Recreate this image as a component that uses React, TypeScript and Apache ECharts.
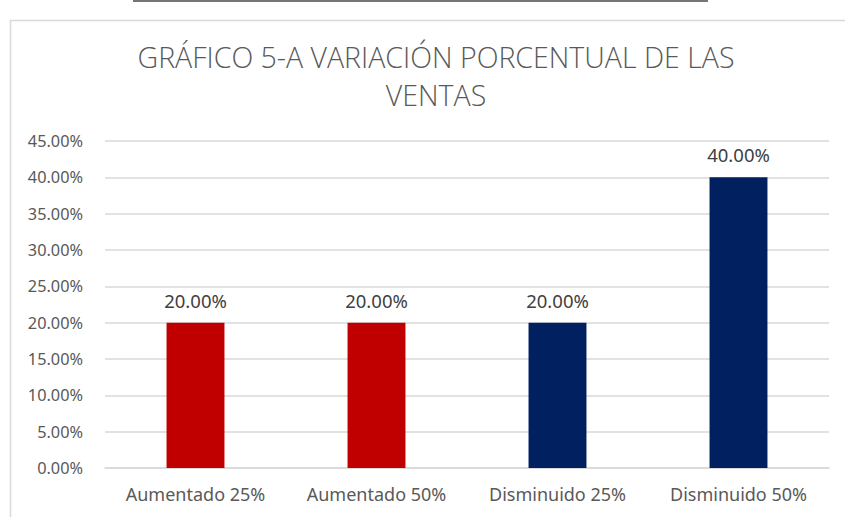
import React, { useEffect, useRef } from "react";
import * as echarts from "echarts";

const categories = ["Aumentado 25%", "Aumentado 50%", "Disminuido 25%", "Disminuido 50%"];
const values = [0.2, 0.2, 0.2, 0.4];
const barColors = ["#C00000", "#C00000", "#002060", "#002060"];
const titleText = "GRÁFICO 5-A VARIACIÓN PORCENTUAL DE LAS\nVENTAS";

const pct = (v: number) => (v * 100).toFixed(2) + "%";

export default function App() {
  const ref = useRef<HTMLDivElement>(null);
  useEffect(() => {
    if (!ref.current) return;
    const chart = echarts.init(ref.current, undefined, { renderer: "svg" });
    chart.setOption({
      animation: false,
      backgroundColor: "#ffffff",
      title: {
        text: titleText,
        left: 431,
        top: 33,
        textAlign: "center",
        textStyle: {
          fontFamily: "'Open Sans', sans-serif",
          fontSize: 28.5,
          fontWeight: 300,
          color: "#595959",
          lineHeight: 38,
        },
      },
      graphic: [
        {
          type: "rect",
          shape: { x: 10.5, y: 20.5, width: 860, height: 520 },
          style: { fill: "none", stroke: "#d9d9d9", lineWidth: 1.5 },
          silent: true,
          z: -1,
        },
        {
          type: "line",
          shape: { x1: 133, y1: 1, x2: 708, y2: 1 },
          style: { stroke: "#767676", lineWidth: 2 },
          silent: true,
        },
      ],
      grid: { left: 105, right: 16, top: 141, bottom: 49, containLabel: false },
      xAxis: {
        type: "category",
        data: categories,
        axisLine: { show: true, lineStyle: { color: "#d9d9d9", width: 1.5 } },
        axisTick: { show: false },
        axisLabel: {
          interval: 0,
          color: "#595959",
          fontSize: 18,
          fontFamily: "'Noto Sans', sans-serif",
          margin: 17,
        },
      },
      yAxis: {
        type: "value",
        min: 0,
        max: 0.45,
        interval: 0.05,
        axisLine: { show: false },
        axisTick: { show: false },
        splitLine: { lineStyle: { color: "#d9d9d9", width: 1.5 } },
        axisLabel: {
          color: "#595959",
          fontSize: 16.3,
          fontFamily: "'Noto Sans', sans-serif",
          margin: 22,
          formatter: (v: number) => pct(v),
        },
      },
      series: [
        {
          type: "bar",
          barWidth: "32%",
          data: values.map((v, i) => ({ value: v, itemStyle: { color: barColors[i] } })),
          label: {
            show: true,
            position: "top",
            distance: 13,
            color: "#404040",
            fontSize: 18.5,
            fontFamily: "'Noto Sans', sans-serif",
            formatter: (p: any) => pct(p.value),
          },
        },
      ],
    });
    return () => chart.dispose();
  }, []);
  return (
    <div style={{ position: "fixed", left: 0, top: 0, width: 845, height: 517 }}>
      <div ref={ref} style={{ width: 845, height: 517 }} />
    </div>
  );
}
